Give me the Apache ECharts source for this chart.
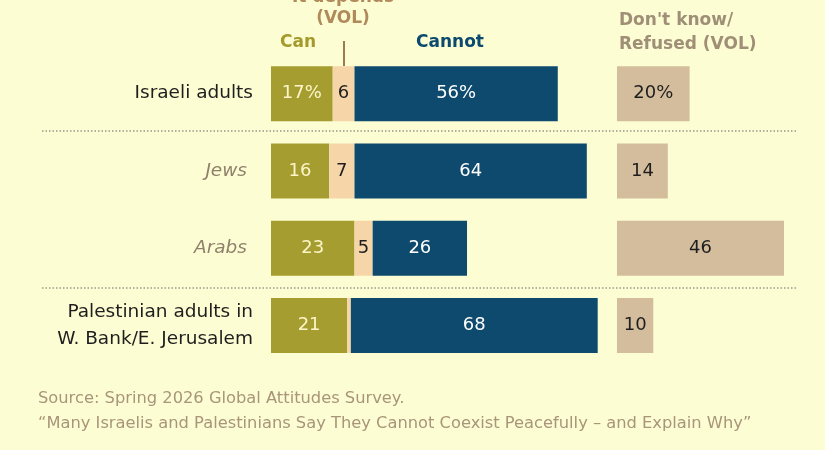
<!DOCTYPE html>
<html>
<head>
<meta charset="utf-8">
<script src="https://cdn.jsdelivr.net/npm/echarts@6/dist/echarts.min.js"></script>
<style>
html,body{margin:0;padding:0;background:#fdfdd3;}
#main{width:825px;height:450px;}
</style>
</head>
<body>
<div id="main"></div>
<script>
// 数据
var groups = ['Israeli adults', 'Jews', 'Arabs', 'Palestinian adults in\nW. Bank/E. Jerusalem'];
var canVals = [17, 16, 23, 21];
var dependsVals = [6, 7, 5, 1];
var cannotVals = [56, 64, 26, 68];
var dkVals = [20, 14, 46, 10];
var canLabels = ['17%', '16', '23', '21'];
var dependsLabels = ['6', '7', '5', ''];
var cannotLabels = ['56%', '64', '26', '68'];
var dkLabels = ['20%', '14', '46', '10'];

var FONT = '"DejaVu Sans", Verdana, sans-serif';

function barLabel(list, color){
    return {
        show: true,
        position: 'inside',
        color: color,
        fontSize: 18,
        fontFamily: FONT,
        formatter: function(p){ return list[p.dataIndex]; }
    };
}

function headText(text, x, y, color, align){
    return {
        type: 'text',
        style: {
            text: text, x: x, y: y,
            fill: color,
            textAlign: align || 'center',
            textVerticalAlign: 'middle',
            font: 'bold 17px ' + FONT
        }
    };
}

function dotLine(y){
    return {
        type: 'line',
        shape: {x1: 42, y1: y, x2: 797, y2: y},
        style: {stroke: '#9a9a8a', lineWidth: 1.5, lineDash: [1.5, 2]}
    };
}

var myChart = echarts.init(document.getElementById('main'));
var option = {
    backgroundColor: '#fdfdd3',
    animation: false,
    grid: [
        {left: 271, top: 55, width: 363, height: 309},
        {left: 617, top: 55, width: 181.5, height: 309}
    ],
    xAxis: [
        {type: 'value', gridIndex: 0, min: 0, max: 100, show: false},
        {type: 'value', gridIndex: 1, min: 0, max: 50, show: false}
    ],
    yAxis: [
        {
            type: 'category', gridIndex: 0, data: groups, inverse: true,
            axisLine: {show: false}, axisTick: {show: false},
            axisLabel: {
                margin: 18,
                formatter: function(v, i){
                    if(i === 1 || i === 2){
                        return '{i|' + v + '}';
                    }
                    return v.split('\n').map(function(s){ return '{b|' + s + '}'; }).join('\n');
                },
                rich: {
                    b: {color: '#1e1e1e', fontSize: 18.5, fontFamily: FONT, lineHeight: 27},
                    i: {color: '#8f806b', fontSize: 18.5, fontStyle: 'italic', fontFamily: FONT, padding: [0, 6, 0, 0]}
                }
            }
        },
        {
            type: 'category', gridIndex: 1, data: groups, inverse: true,
            axisLine: {show: false}, axisTick: {show: false}, axisLabel: {show: false}
        }
    ],
    series: [
        {
            name: 'Can', type: 'bar', stack: 'a', barWidth: 55,
            xAxisIndex: 0, yAxisIndex: 0,
            itemStyle: {color: '#a59d30'},
            label: barLabel(canLabels, '#fdf5c8'),
            data: canVals
        },
        {
            name: 'It depends', type: 'bar', stack: 'a', barWidth: 55,
            xAxisIndex: 0, yAxisIndex: 0,
            itemStyle: {color: '#f6d6a9'},
            label: barLabel(dependsLabels, '#1e1e1e'),
            data: dependsVals
        },
        {
            name: 'Cannot', type: 'bar', stack: 'a', barWidth: 55,
            xAxisIndex: 0, yAxisIndex: 0,
            itemStyle: {color: '#0d4a6d'},
            label: barLabel(cannotLabels, '#ffffff'),
            data: cannotVals
        },
        {
            name: 'DK', type: 'bar', barWidth: 55,
            xAxisIndex: 1, yAxisIndex: 1,
            itemStyle: {color: '#d4bd9d'},
            label: barLabel(dkLabels, '#1e1e1e'),
            data: dkVals
        }
    ],
    graphic: [
        headText('It depends', 343, -2, '#b08a5a'),
        headText('(VOL)', 343, 19, '#b08a5a'),
        headText('Can', 298, 43, '#a39a2b'),
        headText('Cannot', 450, 43, '#0b4a6e'),
        headText("Don't know/", 619, 21, '#a08f77', 'left'),
        headText('Refused (VOL)', 619, 45, '#a08f77', 'left'),
        {
            type: 'line',
            shape: {x1: 344, y1: 41, x2: 344, y2: 66},
            style: {stroke: '#9a7a4e', lineWidth: 2}
        },
        dotLine(131),
        dotLine(288),
        {
            type: 'text',
            style: {
                text: 'Source: Spring 2026 Global Attitudes Survey.',
                x: 38, y: 399, fill: '#a8957a', textVerticalAlign: 'middle',
                font: '16.3px ' + FONT
            }
        },
        {
            type: 'text',
            style: {
                text: '\u201cMany Israelis and Palestinians Say They Cannot Coexist Peacefully \u2013 and Explain Why\u201d',
                x: 38, y: 424, fill: '#a8957a', textVerticalAlign: 'middle',
                font: '16.3px ' + FONT
            }
        }
    ]
};
myChart.setOption(option);
</script>
</body>
</html>
